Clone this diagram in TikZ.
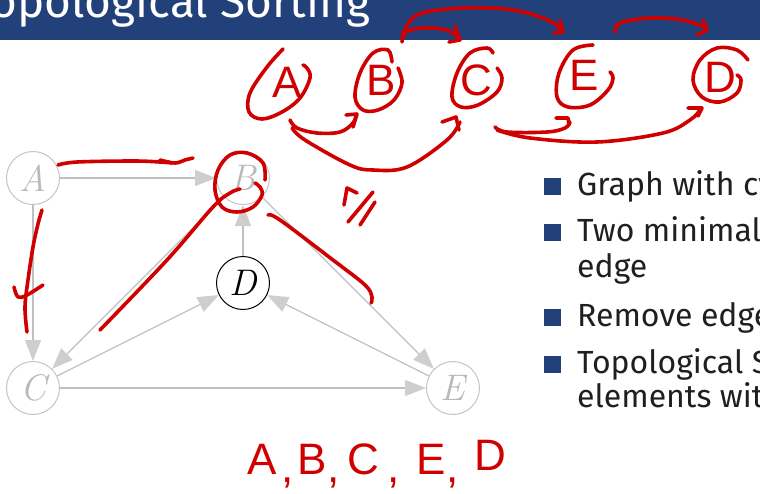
\documentclass[tikz,border=0pt]{standalone}
\usepackage{fontspec}
\setsansfont{Fira Sans}
\newfontfamily\handfont{Liberation Sans}
\usetikzlibrary{arrows.meta}
\definecolor{titleblue}{RGB}{34,64,122}
\definecolor{inkred}{RGB}{208,0,0}
\definecolor{edgegray}{RGB}{192,192,192}
\definecolor{headgray}{RGB}{206,206,206}
\definecolor{nodegray}{RGB}{196,196,196}
\definecolor{labelgray}{RGB}{185,185,185}
\begin{document}
\begin{tikzpicture}[x=1pt,y=-1pt,
  vtx/.style={circle,draw=nodegray,line width=1pt,minimum size=53pt,inner sep=0pt,
    text=labelgray,font=\itshape\fontsize{37}{44}\selectfont},
  vtxd/.style={vtx,draw=black,text=black},
  gedge/.style={draw=edgegray,line width=1.3pt,
    -{Triangle[length=21pt,width=16pt,color=headgray]}},
  ink/.style={draw=inkred,line width=3.6pt,line cap=round,line join=round},
  hand/.style={text=inkred,inner sep=0pt,font=\handfont\fontsize{44}{50}\selectfont},
  bullettxt/.style={anchor=base west,inner sep=0pt,text=black!88,
    font=\sffamily\fontsize{32}{38}\selectfont},
  bsq/.style={fill=titleblue}
]
\useasboundingbox (0,0) rectangle (760,493);
\clip (0,0) rectangle (760,493);

% title bar
\fill[titleblue] (0,0) rectangle (760,40);
\node[anchor=base west,inner sep=0pt,text=white,font=\sffamily\fontsize{46}{54}\selectfont]
  (title) at (-31,17) {Topological Sorting};

% bullets
\fill[bsq] (544,178) rectangle (561,195);
\fill[bsq] (544,224) rectangle (561,241);
\fill[bsq] (544,309) rectangle (561,326);
\fill[bsq] (544,356) rectangle (561,373);
\node[bullettxt] (t1) at (577,195) {Graph with cycle};
\node[bullettxt] (t2) at (577,241) {Two minimal elements};
\node[bullettxt] (t2b) at (577,277) {edge};
\node[bullettxt] (t3) at (577,326) {Remove edge};
\node[bullettxt] (t4) at (577,373) {Topological Sorting};
\node[bullettxt] (t4b) at (577,407) {elements with};

% graph
\node[vtx] (A) at (33,178) {A};
\node[vtx] (B) at (243,178) {B};
\node[vtxd] (D) at (243,283) {D};
\node[vtx] (C) at (33,388) {C};
\node[vtx] (E) at (453,388) {E};
\draw[gedge] (A) -- (B);
\draw[gedge] (A) -- (C);
\draw[gedge] (B) -- (C);
\draw[gedge] (C) -- (D);
\draw[gedge] (D) -- (B);
\draw[gedge] (B) -- (E);
\draw[gedge] (E) -- (D);
\draw[gedge] (C) -- (E);

% ---- red annotations ----
% circled letters in the top row
\node[hand] (ha) at (287,82) {A};
\node[hand] (hb) at (381,80) {B};
\node[hand] (hc) at (476,80) {C};
\node[hand] (he) at (584,75) {E};
\node[hand] (hd) at (720,77) {D};
\draw[ink] plot[smooth,tension=0.6] coordinates {(283,49) (267,67) (250,93) (249,112) (262,119) (282,112) (300,98) (310,78) (307,68) (303,65)};
\draw[ink] plot[smooth,tension=0.6] coordinates {(392,62) (388,50) (373,53) (360,73) (355,97) (363,110) (378,110) (394,100) (402,83) (398,68)};
\draw[ink] plot[smooth,tension=0.6] coordinates {(493,53) (487,48) (470,53) (457,73) (452,97) (461,107) (478,105) (497,92) (502,78) (497,68)};
\draw[ink] plot[smooth,tension=0.6] coordinates {(593,45) (573,50) (559,73) (557,97) (568,107) (590,105) (608,90) (613,78) (610,72)};
\draw[ink] plot[smooth,tension=0.6] coordinates {(748,60) (737,50) (717,48) (700,60) (693,80) (702,97) (720,102) (737,93) (741,80) (737,75)};

% arrows above the row
\draw[ink] plot[smooth,tension=0.6] coordinates {(402,42) (406,32) (423,28) (447,30) (460,39)};
\draw[ink] (455,26) -- (460,40) -- (449,42);
\draw[ink] plot[smooth,tension=0.6] coordinates {(402,37) (417,15) (463,8) (513,10) (550,21) (562,32)};
\draw[ink] (560,20) -- (563,32) -- (554,33);
\draw[ink] plot[smooth,tension=0.6] coordinates {(615,32) (620,23) (650,18) (683,20) (707,28)};
\draw[ink] (703,20) -- (707,30) -- (697,35);

% arrows below the row
\draw[ink] plot[smooth,tension=0.6] coordinates {(290,120) (297,128) (317,133) (340,132) (353,123) (356,115)};
\draw[ink] (346,115) -- (357,114) -- (353,127);
\draw[ink] plot[smooth,tension=0.6] coordinates {(292,128) (305,140) (350,165) (373,170) (407,167) (447,140) (460,122)};
\draw[ink] (442,122) -- (456,117) -- (459,130);
\draw[ink] plot[smooth,tension=0.6] coordinates {(495,127) (507,132) (547,132) (565,128) (570,122)};
\draw[ink] (556,118) -- (568,118) -- (569,125);
\draw[ink] plot[smooth,tension=0.6] coordinates {(497,130) (530,138) (597,142) (663,133) (690,120) (700,110)};
\draw[ink] (688,108) -- (702,108) -- (698,116);

% not-equal-like mark
\draw[ink] (344,205) -- (347,188) -- (357,193);
\draw[ink] (348,222) -- (373,192);
\draw[ink] (360,225) -- (375,202);

% strokes on the graph
\draw[ink] plot[smooth,tension=0.6] coordinates {(58,165) (77,162) (133,161) (160,162) (172,163)};
\draw[ink] plot[smooth,tension=0.6] coordinates {(160,160) (175,163) (185,160) (193,158)};
\draw[ink] plot[smooth,tension=0.6] coordinates {(42,210) (38,224) (33,247) (28,280) (25,307) (27,332)};
\draw[ink] plot[smooth,tension=0.6] coordinates {(14,287) (18,297) (27,295) (43,285)};
\draw[ink] plot[smooth,tension=0.6] coordinates {(265,180) (263,163) (247,153) (230,155) (218,170) (215,190) (222,207) (237,212) (253,207) (262,195) (260,187) (255,183)};
\draw[ink] plot[smooth,tension=0.6] coordinates {(240,189) (230,193) (213,207) (167,260) (100,330)};
\draw[ink] plot[smooth,tension=0.6] coordinates {(268,215) (280,220) (333,260) (365,285) (372,297) (371,303)};

% written order below
\node[hand] (o1) at (262,459) {A};
\node[hand] (c1) at (288,483) {,};
\node[hand] (o2) at (312,459) {B};
\node[hand] (c2) at (334,483) {,};
\node[hand] (o3) at (363,459) {C};
\node[hand] (c3) at (394,483) {,};
\node[hand] (o4) at (431,459) {E};
\node[hand] (c4) at (453,483) {,};
\node[hand] (o5) at (490,455) {D};
\end{tikzpicture}
\end{document}
